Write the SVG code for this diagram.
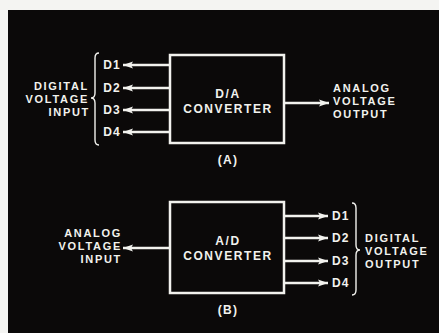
<svg xmlns="http://www.w3.org/2000/svg" width="439" height="333" viewBox="0 0 439 333">
<defs>
<style>
.t{font-family:"Liberation Sans",Arial,sans-serif;font-weight:bold;font-size:12px;fill:#f2f2ee;letter-spacing:1.2px}
.m{font-family:"Liberation Sans",Arial,sans-serif;font-weight:bold;font-size:11px;fill:#f2f2ee;letter-spacing:1.7px}
.b{font-family:"Liberation Sans",Arial,sans-serif;font-weight:bold;font-size:12px;fill:#f2f2ee;letter-spacing:1.6px}
.box{fill:none;stroke:#f2f2ee;stroke-width:2.5}
.w{stroke:#f2f2ee;stroke-width:2.5;fill:none}
.br{stroke:#f2f2ee;stroke-width:1.4;fill:none}
</style>
<marker id="ah" markerUnits="userSpaceOnUse" markerWidth="11" markerHeight="8" refX="10" refY="4" orient="auto">
<path d="M0,0.5 L10,4 L0,7.5 L2,4 z" fill="#f2f2ee"/>
</marker>
</defs>
<rect x="0" y="0" width="439" height="333" fill="#f4f4f2"/>
<rect x="8" y="10" width="431" height="323" fill="#0b0909"/>

<g id="converter-da">
<rect class="box" x="170" y="55" width="114" height="88"/>
<text class="b" x="228" y="98" text-anchor="middle">D/A</text>
<text class="b" x="228" y="113" text-anchor="middle">CONVERTER</text>
</g>
<g id="label-a"><text class="t" x="228" y="164" text-anchor="middle">(A)</text></g>

<g id="digital-input">
<text class="m" x="89" y="90" text-anchor="end">DIGITAL</text>
<text class="m" x="89" y="103" text-anchor="end">VOLTAGE</text>
<text class="m" x="90" y="116" text-anchor="end">INPUT</text>
<path class="br" d="M99 53 Q95 53 95 58 L95 93 Q95 98 91 98 Q95 98 95 103 L95 140 Q95 145 99 145"/>
<text class="t" x="121" y="69" text-anchor="end">D1</text>
<text class="t" x="121" y="92" text-anchor="end">D2</text>
<text class="t" x="121" y="114" text-anchor="end">D3</text>
<text class="t" x="121" y="136" text-anchor="end">D4</text>
</g>

<g id="analog-output">
<text class="m" x="333" y="92">ANALOG</text>
<text class="m" x="333" y="105">VOLTAGE</text>
<text class="m" x="333" y="118">OUTPUT</text>
</g>

<g id="converter-ad">
<rect class="box" x="170" y="202" width="114" height="91"/>
<text class="b" x="228" y="245" text-anchor="middle">A/D</text>
<text class="b" x="228" y="260" text-anchor="middle">CONVERTER</text>
</g>
<g id="label-b"><text class="t" x="228" y="314" text-anchor="middle">(B)</text></g>

<g id="analog-input">
<text class="m" x="122" y="237" text-anchor="end">ANALOG</text>
<text class="m" x="122" y="250" text-anchor="end">VOLTAGE</text>
<text class="m" x="122" y="263" text-anchor="end">INPUT</text>
</g>

<g id="digital-output">
<text class="t" x="332" y="220">D1</text>
<text class="t" x="332" y="242">D2</text>
<text class="t" x="332" y="265">D3</text>
<text class="t" x="332" y="287">D4</text>
<path class="br" d="M352 203 Q356 203 356 208 L356 245 Q356 250 360 250 Q356 250 356 255 L356 290 Q356 295 352 295"/>
<text class="m" x="365" y="242">DIGITAL</text>
<text class="m" x="365" y="255">VOLTAGE</text>
<text class="m" x="365" y="268">OUTPUT</text>
</g>

<g id="connectors">
<line class="w" x1="170" y1="65" x2="123" y2="65" marker-end="url(#ah)"/>
<line class="w" x1="170" y1="88" x2="123" y2="88" marker-end="url(#ah)"/>
<line class="w" x1="170" y1="110" x2="123" y2="110" marker-end="url(#ah)"/>
<line class="w" x1="170" y1="132" x2="123" y2="132" marker-end="url(#ah)"/>
<line class="w" x1="284" y1="103" x2="329" y2="103" marker-end="url(#ah)"/>
<line class="w" x1="170" y1="248" x2="123" y2="248" marker-end="url(#ah)"/>
<line class="w" x1="284" y1="216" x2="328" y2="216" marker-end="url(#ah)"/>
<line class="w" x1="284" y1="238" x2="328" y2="238" marker-end="url(#ah)"/>
<line class="w" x1="284" y1="261" x2="328" y2="261" marker-end="url(#ah)"/>
<line class="w" x1="284" y1="283" x2="328" y2="283" marker-end="url(#ah)"/>
</g>
</svg>
